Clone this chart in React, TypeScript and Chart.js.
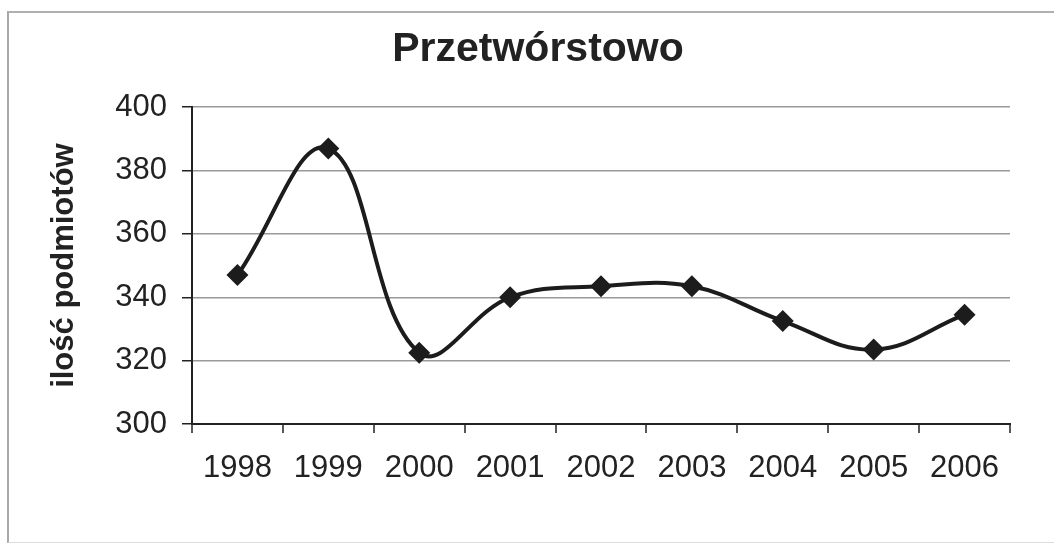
import React, { useEffect, useRef } from "react";
import { Chart, registerables } from "chart.js";

Chart.register(...registerables);

const chartTitle = "Przetwórstowo";
const yAxisTitle = "ilość podmiotów";
const years = ["1998", "1999", "2000", "2001", "2002", "2003", "2004", "2005", "2006"];
const entities = [347, 387, 322.5, 340, 343.5, 343.5, 332.5, 323.5, 334.5];
const yMin = 300;
const yMax = 400;
const yStep = 20;

const FONT = "'Liberation Sans', Arial, sans-serif";

export default function App() {
  const ref = useRef<HTMLCanvasElement | null>(null);

  useEffect(() => {
    if (!ref.current) return;
    const chart = new Chart(ref.current, {
      type: "line",
      data: {
        labels: years,
        datasets: [
          {
            data: entities,
            borderColor: "#1c1c1c",
            backgroundColor: "#1c1c1c",
            borderWidth: 4,
            tension: 0.4,
            pointStyle: "rectRot",
            pointRadius: 11,
            pointBorderWidth: 0,
            pointBackgroundColor: "#1c1c1c",
            fill: false,
          },
        ],
      },
      options: {
        animation: false,
        responsive: false,
        maintainAspectRatio: false,
        layout: { padding: { left: 45.6, right: 23.6, top: 0, bottom: 0 } },
        plugins: {
          legend: { display: false },
          tooltip: { enabled: false },
          title: {
            display: true,
            text: chartTitle,
            color: "#222",
            font: { family: FONT, size: 41, weight: "bold", lineHeight: 1.2 },
            padding: { top: 25, bottom: 33 },
          },
        },
        scales: {
          x: {
            type: "category",
            offset: true,
            afterFit: (s: any) => {
              s.height = 125;
            },
            grid: {
              offset: true,
              drawOnChartArea: true,
              color: (c: any) => (c.index === years.length ? "#888" : "rgba(0,0,0,0)"),
              lineWidth: 2,
              tickColor: "#222",
              tickLength: 9,
              tickWidth: 1.5,
            },
            border: { display: true, color: "#222", width: 2 },
            ticks: {
              color: "#222",
              padding: 17,
              maxRotation: 0,
              autoSkip: false,
              font: { family: FONT, size: 31 },
            },
          },
          y: {
            min: yMin,
            max: yMax,
            afterFit: (s: any) => {
              s.width = 146.4;
            },
            grid: {
              color: "#9a9a9a",
              lineWidth: 1.5,
              tickColor: "#222",
              tickLength: 10,
              tickWidth: 1.5,
            },
            border: { display: true, color: "#222", width: 2 },
            ticks: {
              stepSize: yStep,
              color: "#222",
              padding: 15,
              font: { family: FONT, size: 31 },
            },
            title: {
              display: true,
              text: yAxisTitle,
              color: "#222",
              font: { family: FONT, size: 31, weight: "bold", lineHeight: 1.2 },
              padding: { top: 0, bottom: 0 },
            },
          },
          y2: {
            position: "right",
            min: yMin,
            max: yMax,
            afterFit: (s: any) => {
              s.width = 20.4;
            },
            grid: { display: false, drawOnChartArea: false },
            border: { display: false },
            ticks: { display: false },
          },
        },
      },
    });
    return () => chart.destroy();
  }, []);

  return (
    <div style={{ position: "absolute", left: 0, top: 0, width: 1054, height: 549, background: "#fff" }}>
      <div
        style={{
          position: "absolute",
          left: 7,
          top: 11,
          width: 1060,
          height: 529,
          borderTop: "2px solid #b0b0b0",
          borderLeft: "2px solid #a8a8a8",
          borderBottom: "1px solid #dcdcdc",
        }}
      />
      <canvas ref={ref} width={1054} height={549} style={{ position: "absolute", left: 0, top: 0 }} />
    </div>
  );
}
